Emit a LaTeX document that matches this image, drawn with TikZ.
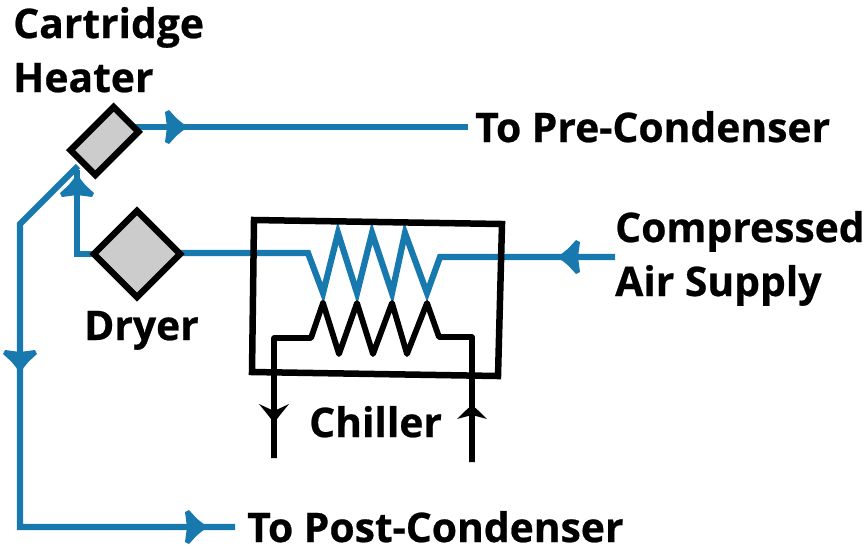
\documentclass[tikz,border=0pt]{standalone}
\usepackage{fontspec}
\setmainfont[BoldFeatures={FakeBold=0.6}]{Open Sans}
\usetikzlibrary{backgrounds}
\definecolor{pipeblue}{HTML}{1879AF}
\definecolor{unitgray}{HTML}{CCCCCC}
\tikzset{
  pipe/.style={draw=pipeblue,line width=6.2pt,miter limit=6},
  coolant/.style={draw=black,line width=5.8pt,line join=round},
  unit/.style={draw=black,fill=unitgray,line width=6.5pt,inner sep=0pt},
  label/.style={anchor=base west,inner sep=0pt,font=\fontsize{40.8}{41}\selectfont\bfseries},
  bluehead/.pic={\fill[pipeblue] (0,0) .. controls (-10,-7) .. (-19,-17) -- (-23,-15) -- (-21,0) -- (-23,15) -- (-19,17) .. controls (-10,7) .. (0,0) -- cycle;},
  blackhead/.pic={\fill[black] (0,0) .. controls (-8,-6) .. (-19,-15) -- (-12,0) -- (-19,15) .. controls (-8,6) .. (0,0) -- cycle;},
  blackheadup/.pic={\fill[black] (0,0) .. controls (-6,-7) .. (-14,-15) -- (-10,0) -- (-14,15) .. controls (-6,7) .. (0,0) -- cycle;}
}
\begin{document}
\begin{tikzpicture}[x=1pt,y=-1pt]
\useasboundingbox (0,0) rectangle (866,550);
% units
\node[unit,minimum width=61pt,minimum height=35pt,rotate=45] (heater) at (104.5,141) {};
\node[unit,minimum width=61pt,minimum height=61pt,rotate=45] (dryer) at (137,254) {};
\draw[black,line width=6.5pt,line join=miter] (254,220) -- (502,224) -- (498,376) -- (252,372) -- cycle;
% labels
\node[label] (cartridge) at (13,38) {Cartridge};
\node[label] (heatertxt) at (13,92) {Heater};
\node[label] (pre) at (475,142) {To Pre-Condenser};
\node[label] (compressed) at (615,242) {Compressed};
\node[label] (air) at (615,296) {Air Supply};
\node[label] (dryertxt) at (84,340) {Dryer};
\node[label] (chiller) at (309,437) {Chiller};
\node[label] (post) at (247,542) {To Post-Condenser};
% free ends
\coordinate (hout) at (130,127);
\coordinate (hin) at (78,166);
\coordinate (dout) at (176,253);
\coordinate (preend) at (468,127);
\coordinate (postend) at (235,527);
\coordinate (airstart) at (615,257);
\begin{scope}[on background layer]
\draw[pipe] (hout) -- (preend);
\draw[pipe] (hin) -- (20,224) -- (20,527) -- (postend);
\draw[pipe] (dryer.center) -- (77,254) -- (77,170);
\draw[pipe] (dout) -- (308,253) -- (323,293) -- (338,233) -- (357,293) -- (372,233) -- (392,293) -- (405,233) -- (427,293) -- (440,257) -- (airstart);
\end{scope}
\pic[rotate=0] at (188,127) {bluehead};
\pic[rotate=-90] at (20,373) {bluehead};
\pic[rotate=0] at (208,527) {bluehead};
\pic[rotate=90] at (77,174) {bluehead};
\pic[rotate=180] at (557,257) {bluehead};
\draw[coolant] (274,458) -- (274,338) -- (311,338) -- (323,303) -- (339,354) -- (357,303) -- (373,354) -- (392,303) -- (407,354) -- (427,303) -- (439,337) -- (472,337) -- (472,462);
\pic[rotate=-90] at (274,423) {blackhead};
\pic[rotate=90] at (472,405) {blackheadup};
\end{tikzpicture}
\end{document}
